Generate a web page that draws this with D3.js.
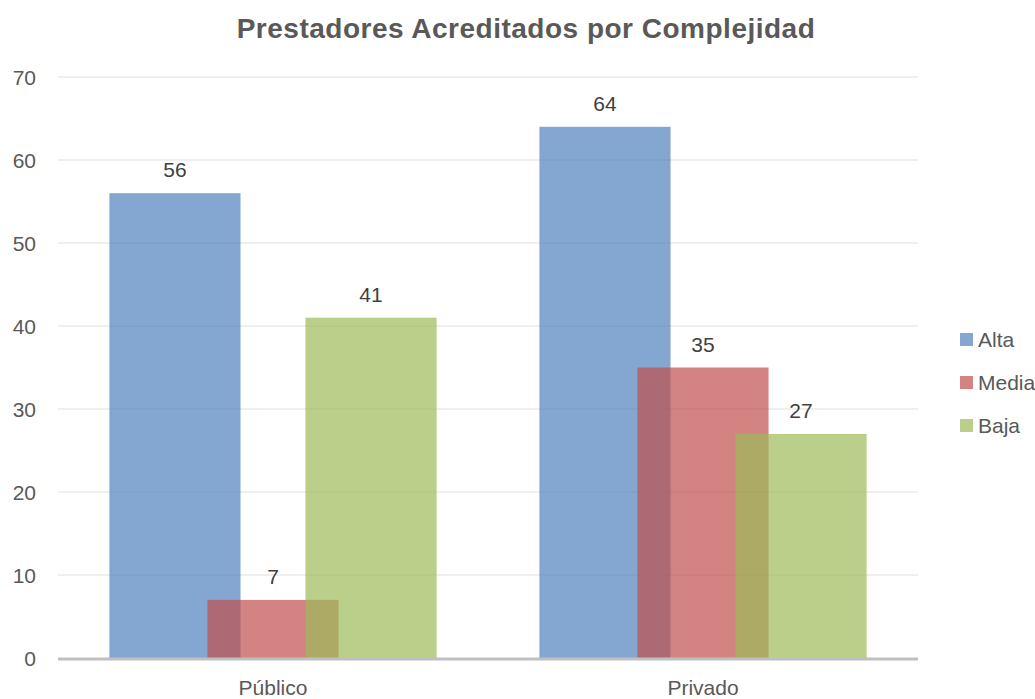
<!DOCTYPE html>
<html>
<head>
<meta charset="utf-8">
<script src="https://cdn.jsdelivr.net/npm/d3@7"></script>
<style>
  body { margin: 0; background: #fff; }
  svg text { font-family: "Liberation Sans Narrow", "Arial Narrow", "Liberation Sans", sans-serif; }
</style>
</head>
<body>
<div id="vis-holder"></div>
<script>
// Chart data
const categories = ["Público", "Privado"];
const seriesNames = ["Alta", "Media", "Baja"];
const alta = [56, 64];
const media = [7, 35];
const baja = [41, 27];
const yTicks = [0, 10, 20, 30, 40, 50, 60, 70];

const width = 1035;
const height = 699;
const margin = { top: 77, right: 117, bottom: 41, left: 58 };

const color = d3.scaleOrdinal()
                .domain(seriesNames)
                .range(["#4F81BD", "#C0504D", "#9BBB59"]);

const svg = d3.select("#vis-holder")
              .append("svg")
              .attr("width", width)
              .attr("height", height);

// Build rows from the arrays
const seriesValues = [alta, media, baja];
const rows = [];
categories.forEach((c, i) => {
  seriesNames.forEach((s, j) => {
    rows.push({ cat: c, series: s, idx: j, value: seriesValues[j][i] });
  });
});

// Scales
const x = d3.scaleBand()
            .domain(categories)
            .range([margin.left, width - margin.right]);

const y = d3.scaleLinear()
            .domain([0, 70])
            .range([height - margin.bottom, margin.top]);

const barW = x.bandwidth() * 0.305;
const step = x.bandwidth() * 0.228;
const barX = (d) => x(d.cat) + x.bandwidth() / 2 + (d.idx - 1) * step - barW / 2;

// Gridlines
svg.append("g")
   .selectAll("line")
   .data(yTicks.slice(1))
   .enter()
   .append("line")
     .attr("x1", margin.left)
     .attr("x2", width - margin.right)
     .attr("y1", (d) => y(d))
     .attr("y2", (d) => y(d))
     .attr("stroke", "#efefef")
     .attr("stroke-width", 2);

// Y axis labels
const yAxis = svg.append("g")
   .attr("transform", `translate(${margin.left - 22}, 0)`)
   .call(d3.axisLeft(y).tickValues(yTicks).tickSize(0).tickPadding(0));
yAxis.select(".domain").remove();
yAxis.selectAll("text")
     .attr("font-size", "21px")
     .attr("fill", "#595959")
     .attr("dy", "0.35em");

// Bars
svg.append("g")
   .selectAll("rect")
   .data(rows)
   .enter()
   .append("rect")
     .attr("x", barX)
     .attr("y", (d) => y(d.value))
     .attr("width", barW)
     .attr("height", (d) => y(0) - y(d.value))
     .attr("fill", (d) => color(d.series))
     .attr("fill-opacity", 0.7);

// Value labels
svg.append("g")
   .selectAll("text")
   .data(rows)
   .enter()
   .append("text")
     .attr("x", (d) => barX(d) + barW / 2)
     .attr("y", (d) => y(d.value) - 16)
     .attr("text-anchor", "middle")
     .attr("font-size", "21px")
     .attr("fill", "#404040")
     .text((d) => d.value);

// X axis baseline
svg.append("line")
   .attr("x1", margin.left)
   .attr("x2", width - margin.right)
   .attr("y1", y(0) + 1)
   .attr("y2", y(0) + 1)
   .attr("stroke", "#bfbfbf")
   .attr("stroke-width", 3);

// X axis labels
const xAxis = svg.append("g")
   .attr("transform", `translate(0, ${y(0)})`)
   .call(d3.axisBottom(x).tickSize(0).tickPadding(22));
xAxis.select(".domain").remove();
xAxis.selectAll("text")
     .attr("font-size", "21px")
     .attr("fill", "#595959");

// Title
svg.append("text")
   .attr("x", 526)
   .attr("y", 38)
   .attr("text-anchor", "middle")
   .attr("font-size", "28px")
   .attr("font-weight", "bold")
   .attr("letter-spacing", "0.5px")
   .attr("fill", "#595959")
   .text("Prestadores Acreditados por Complejidad");

// Legend
const legend = svg.append("g")
   .selectAll("g")
   .data(seriesNames)
   .enter()
   .append("g")
     .attr("transform", (d, i) => `translate(960, ${340 + i * 43})`);

legend.append("rect")
      .attr("x", 0)
      .attr("y", -7)
      .attr("width", 13)
      .attr("height", 13)
      .attr("fill", (d) => color(d))
      .attr("fill-opacity", 0.7);

legend.append("text")
      .attr("x", 18)
      .attr("y", 0)
      .attr("dy", "0.35em")
      .attr("font-size", "21px")
      .attr("fill", "#595959")
      .text((d) => d);
</script>
</body>
</html>
